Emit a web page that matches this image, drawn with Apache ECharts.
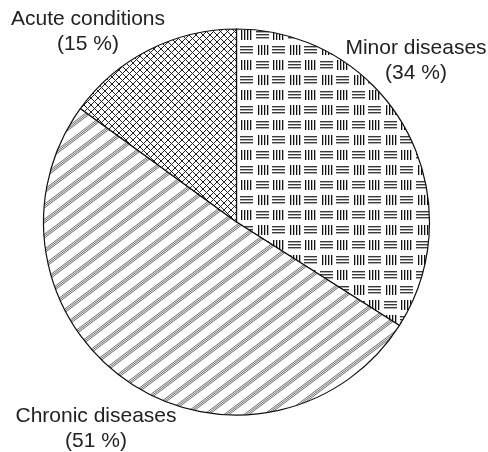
<!DOCTYPE html>
<html>
<head>
<meta charset="utf-8">
<script src="https://cdn.jsdelivr.net/npm/echarts@6/dist/echarts.min.js"></script>
<style>
html,body{margin:0;padding:0;background:#fff;}
#chart{width:488px;height:452px;}
</style>
</head>
<body>
<div id="chart"></div>
<script>
const categories = ['Minor diseases', 'Chronic diseases', 'Acute conditions'];
const values = [34, 51, 15];

function makeCanvas(w, h) {
  const c = document.createElement('canvas');
  c.width = w; c.height = h;
  return c;
}

// Minor diseases: blocks of horizontal and vertical lines
function minorPattern() {
  const c = makeCanvas(32, 30);
  const g = c.getContext('2d');
  g.fillStyle = '#fff'; g.fillRect(0, 0, 32, 30);
  const hz = '#3a3a3a', vt = '#111';
  g.fillStyle = hz;
  [1, 4, 7].forEach(y => g.fillRect(0, y, 13, 1.4));
  g.fillStyle = vt;
  [17, 20, 23, 26].forEach(x => g.fillRect(x, 0, 1.3, 10));
  g.fillStyle = vt;
  [2, 5, 8, 11].forEach(x => g.fillRect(x, 15, 1.3, 10));
  g.fillStyle = hz;
  [16, 19, 22].forEach(y => { g.fillRect(16, y, 13, 1.4); });
  return c;
}

// Chronic diseases: diagonal banded stripes
function chronicPattern() {
  const W = 20, H = 15;
  const c = makeCanvas(W, H);
  const g = c.getContext('2d');
  g.fillStyle = '#fff'; g.fillRect(0, 0, W, H);
  const L = Math.sqrt(W * W + H * H);
  const nx = H / L, ny = W / L;
  g.strokeStyle = '#6a6a6a';
  g.lineWidth = 1;
  for (let k = -1; k <= 3; k++) {
    [-2, -0.5, 1].forEach(d => {
      g.beginPath();
      g.moveTo(k * W + 2 * W + d * nx, -2 * H + d * ny);
      g.lineTo(k * W - 2 * W + d * nx, 2 * H + d * ny);
      g.stroke();
    });
  }
  return c;
}

// Acute conditions: diamond lattice
function acutePattern() {
  const c = makeCanvas(7, 7);
  const g = c.getContext('2d');
  g.fillStyle = '#fff'; g.fillRect(0, 0, 7, 7);
  g.fillStyle = '#222';
  for (let i = 0; i < 7; i++) {
    g.fillRect(i, i, 1, 1);
    g.fillRect(6 - i, i, 1, 1);
  }
  return c;
}

const patterns = [minorPattern(), chronicPattern(), acutePattern()];
const labelPos = [[416, 61], [96, 429], [88, 32]];

const chart = echarts.init(document.getElementById('chart'), null, {renderer: 'canvas'});
chart.setOption({
  animation: false,
  backgroundColor: '#fff',
  series: [{
    type: 'pie',
    center: [236.5, 222],
    radius: [0, 193],
    startAngle: 90,
    clockwise: true,
    silent: true,
    emphasis: {disabled: true},
    itemStyle: {borderColor: '#111', borderWidth: 1.2},
    label: {
      show: true,
      position: 'outside',
      formatter: p => p.name + '\n(' + p.value + ' %)',
      fontFamily: 'Liberation Sans, Arial, sans-serif',
      fontSize: 21,
      lineHeight: 25,
      color: '#222',
      align: 'center',
      overflow: 'none',
      width: 200
    },
    labelLine: {show: false},
    labelLayout: function (params) {
      const p = labelPos[params.dataIndex];
      return {x: p[0], y: p[1], align: 'center', verticalAlign: 'middle', width: 200};
    },
    data: categories.map((name, i) => ({
      name: name,
      value: values[i],
      itemStyle: {color: {image: patterns[i], repeat: 'repeat'}}
    }))
  }]
});
</script>
</body>
</html>
